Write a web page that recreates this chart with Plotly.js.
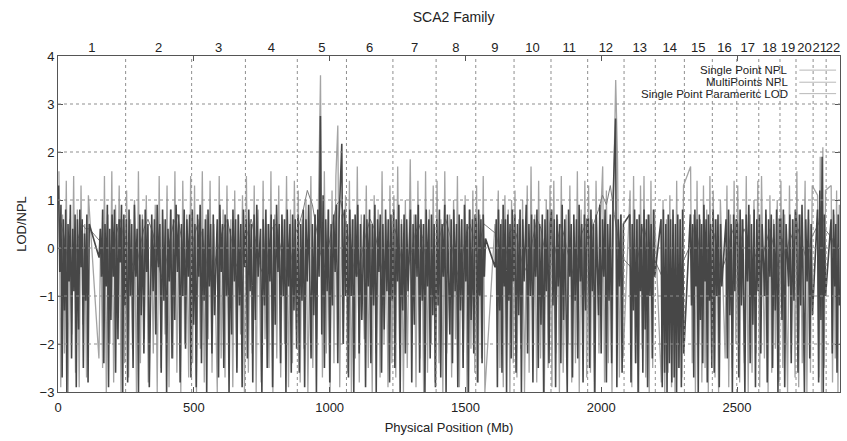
<!DOCTYPE html>
<html><head><meta charset="utf-8">
<script src="https://cdn.plot.ly/plotly-3.0.1.min.js"></script>
<style>html,body{margin:0;padding:0;background:#fff;} #chart{width:847px;height:441px;}</style>
</head><body><div id="chart"></div>
<script>
// ---------- data ----------
const chrNames = ['1','2','3','4','5','6','7','8','9','10','11','12','13','14','15','16','17','18','19','20','21','22'];
const chrLengths = [249,243,198,191,181,171,159,146,141,136,135,134,115,107,103,90,81,78,59,63,48,51];
const gapStarts = [118,90,88,48,46,58,58,43,39,39,51,34,0,0,0,35,22,15,24,26,0,0];
const gapEnds   = [150,94,93,52,50,62,62,47,70,42,55,38,19,19,20,46,25,19,28,30,14,16];

const singlePointNpl = [
 [1.6,-2.9,0.7,-2.2,1.4,-3,0.6,-1.8,1.5,-2.6,0.8,-2.9,1.3,-1.6,0.5,-2.7,1.1,-2.3,0.4,-2.5,1.5,-3,0.7,-2.0,1.6,-2.8,0.9,-1.7,1.3,-3,0.6,-2.4],
 [1.2,-2.7,0.6,-2.1,1.0,-3,1.6,-2.4,0.7,-1.9,1.1,-2.8,0.5,-2.2,0.9,-3,1.5,-2.5,0.6,-1.8,1.3,-2.9,0.8,-2.3,1.6,-2.6,0.5,-3,1.4,-2.0,0.7,-2.7,1.5],
 [-2.4,1.3,-3,0.6,-2.1,1.6,-2.8,0.7,-1.9,1.4,-2.6,0.5,-3,1.5,-2.3,0.8,-2.7,1.3,-2.0,0.6,-2.9,1.2,-2.5,0.7,-1.8,1.1,-3],
 [1.5,-2.6,0.6,-2.2,1.3,-3,0.8,-2.8,1.4,-1.9,0.5,-2.5,1.6,-3,0.7,-2.3,1.3,-2.7,0.6,-2.0,1.5,-2.9,0.8,-2.4,1.4,-1.7],
 [1.2,-2.8,0.6,-2.1,1.0,-3,1.5,-2.5,0.7,-1.9,1.1,3.6,-2.7,1.6,-2.2,0.8,-3,1.2,-2.4,1.5,2.55,-2.9,0.7,-2.0,1.1],
 [-2.6,1.4,-3,0.6,-2.3,1.7,-2.8,0.7,-1.9,1.3,-2.5,0.5,-3,1.1,-2.2,0.8,-2.7,1.6,-2.0,0.6,-2.9,1.3,-2.4],
 [1.1,-2.7,1.7,-2.1,0.6,-3,1.0,-2.5,1.85,-1.8,0.7,-2.9,1.4,-2.3,0.5,-3,1.6,-2.6,0.8,-2.0,1.3,-2.8],
 [1.4,-2.4,0.6,-3,1.6,-2.2,0.7,-2.7,1.0,-1.9,1.5,-2.9,0.6,-2.5,1.1,-3,0.8,-2.1,1.2,-2.6],
 [1.3,-2.8,0.7,-2.3,1.5,-3,0.5,-0.2,1.2,-2.5,0.6,-2.9,1.1,-2.0,0.8,-3,1.0,-2.4],
 [1.2,-2.7,0.6,-2.1,1.0,-3,1.3,-2.6,1.7,-1.9,0.7,-2.8,1.4,-2.3,0.5,-3,1.0,-2.5,1.3],
 [-2.9,1.4,-2.2,0.6,-3,1.5,-2.6,0.7,-2.0,1.3,-2.8,0.5,-2.4,1.6,-3,0.8,-2.1,1.4,-2.7],
 [1.3,-2.6,0.6,-3,1.4,-2.2,0.7,1.7,-2.8,1.2,-2.4,0.6,-3,1.5,3.5,1.8,-2.7,0.7,-2.3],
 [1.2,-2.9,1.5,-2.4,0.6,-3,1.3,-2.1,1.5,-2.7,0.7,-3,1.4,-2.5,0.8],
 [-2.8,1.0,-3,0.6,-2.6,1.1,-2.9,0.7,-3,1.4,-2.5,0.6,-2.7,1.3],
 [1.7,-2.4,0.7,-3,1.4,-2.0,0.6,-2.8,1.3,-2.5,0.8,-3,1.5,-2.2],
 [1.2,-2.7,0.6,-3,1.0,-2.3,1.3,-2.9,0.7,-2.5,1.4,-2.0],
 [1.3,-2.8,0.6,-2.4,1.5,-3,0.7,-2.6,1.0,-2.2,1.4],
 [-2.9,1.5,-2.3,0.7,-3,1.1,-2.6,0.6,-2.1,1.0,-2.8],
 [1.4,-2.5,0.7,-3,1.3,-2.2,0.6,-2.7],
 [1.6,-2.9,0.7,-2.4,1.4,-3,0.6,-2.6,1.3],
 [1.1,-2.7,1.9,-3,2.1,-2.5,1.2],
 [1.3,-2.8,0.7,-2.3,1.2,-3,0.9]
];

const multiPointsNpl = [
 [0.6,0.3,-0.2,-0.6,-0.3,0.2,0.5,0.4,0.4,0.1,-0.4,-0.7,-0.2,0.3,0.6,0.2],
 [0.1,-0.3,-0.5,0.0,0.4,0.6,0.3,-0.2,-0.6,-0.4,0.1,0.5,0.7,0.2,-0.3,-0.1],
 [0.2,0.5,0.3,-0.2,-0.7,-0.4,0.1,0.4,0.6,0.2,-0.3,-0.5,0.0],
 [0.3,0.6,0.2,-0.4,-0.6,-0.1,0.4,0.5,0.1,-0.3,-0.6,-0.2,0.3],
 [0.5,0.8,1.2,0.9,0.4,-0.1,-0.4,0.0,0.5,0.9,1.0,0.6],
 [0.2,-0.3,-0.6,-0.2,0.3,0.6,0.4,-0.1,-0.5,-0.3,0.2],
 [0.4,0.1,-0.4,-0.6,-0.1,0.3,0.5,0.2,-0.3,-0.5,0.0],
 [0.1,0.4,0.6,0.2,-0.3,-0.6,-0.2,0.3,0.5,0.2],
 [-0.2,0.2,0.5,0.3,0.0,-0.4,-0.2,0.3,0.4],
 [0.3,-0.1,-0.5,-0.3,0.2,0.6,0.4,-0.1,-0.4],
 [-0.3,0.1,0.5,0.2,-0.3,-0.6,-0.2,0.3,0.5],
 [0.2,0.5,0.8,1.1,0.9,1.3,0.7,0.2,-0.2],
 [-0.4,-0.7,-0.3,0.2,0.5,0.1,-0.4,-0.2],
 [-0.6,-0.9,-0.5,-0.8,-0.4,-0.7,-0.3],
 [0.1,0.5,0.2,-0.3,-0.5,0.0,0.4],
 [0.3,-0.2,-0.5,-0.1,0.4,0.2],
 [0.0,0.4,0.2,-0.3,-0.1],
 [-0.3,0.1,0.4,0.0,-0.4],
 [0.2,-0.2,0.3,0.1],
 [0.4,0.1,-0.3,0.2],
 [0.5,0.9,0.4],
 [0.2,-0.2,0.1]
];

const parametricLod = [
 [1.3,-0.5,0.9,-2.7,0.6,-1.3,0.8,-3,0.5,-0.7,0.9,-2.3,0.4,-0.9,0.7,-2.9,0.6,-1.7,0.8,-0.4,0.6,-2.5,0.3,-1.1,0.7,-2.8,0.5,-0.2,0.4,-0.6,0.8,-2.4,0.5,-0.8,0.9,-2.9,0.4,-1.5,0.7,-0.6,0.8,-2.6,0.5,-1.9,0.6,-0.3,0.9,-3,0.7,-1.2],
 [0.6,-2.8,0.8,-1.0,0.5,-2.5,0.9,-0.6,0.4,-3,0.7,-1.4,0.6,-2.2,0.8,-0.5,0.5,-2.9,0.7,-0.9,0.6,-1.8,0.9,-0.4,0.5,-2.6,0.8,-1.1,0.6,-3,0.4,-0.7,0.8,-2.3,0.6,-1.5,0.9,-0.5,0.7,-2.8,0.5,-1.0,0.8,-2.1,0.6,-0.6,0.7,-2.7],
 [0.8,-1.6,0.5,-2.9,0.7,-0.6,0.9,-2.4,0.4,-1.1,0.6,-3,0.8,-0.8,0.5,-2.2,0.7,-1.4,0.6,-2.7,0.9,-0.5,0.5,-2.5,0.7,-1.0,0.6,-3,0.4,-1.8,0.8,-0.7,0.6,-2.6,0.7,-1.2,0.5,-2.9,0.8,-0.4],
 [0.6,-2.3,0.8,-0.9,0.5,-2.8,0.7,-1.5,0.9,-0.6,0.4,-3,0.6,-1.2,0.8,-2.5,0.5,-0.7,0.7,-2.9,0.6,-1.6,0.9,-0.5,0.5,-2.4,0.7,-1.0,0.6,-3,0.8,-0.8,0.5,-2.6,0.7,-1.3,0.6,-2.1],
 [0.7,-2.6,0.5,-1.1,0.8,-2.9,0.6,-0.7,0.9,-2.3,0.5,-1.4,0.7,-3,0.8,-0.6,2.75,-1.8,1.1,-2.5,0.6,-0.9,0.8,-2.8,0.5,-1.2,0.7,-0.5,0.9,-2.4,0.6,1.4,2.17,-2.0,0.8,-1.0],
 [0.5,-2.7,0.8,-1.0,0.6,-3,0.7,-0.6,0.9,-2.2,0.5,-1.5,0.7,-2.9,0.6,-0.8,0.8,-2.4,0.5,-1.2,0.9,-3,0.6,-0.5,0.7,-2.6,0.5,-1.7,0.8,-0.9,0.6,-2.8,0.7,-1.1],
 [0.8,-2.5,0.6,-0.7,0.9,-3,0.5,-1.3,0.7,-2.2,0.6,-0.9,0.8,-2.8,0.5,-1.6,0.7,-0.6,0.9,-2.6,0.6,-1.1,0.5,-3,0.8,-0.8,0.6,-2.3,0.7,-1.4,0.5,-2.9],
 [0.6,-1.2,0.8,-2.7,0.5,-0.6,0.9,-3,0.7,-1.8,0.6,-2.4,0.8,-0.9,0.5,-2.9,0.7,-1.3,0.6,-2.5,0.9,-0.7,0.5,-3,0.8,-1.5,0.6,-2.2,0.7],
 [0.5,-2.8,0.8,-1.0,0.6,-2.4,0.7,-0.6,0.2,-0.4,0.6,-2.9,0.8,-1.3,0.5,-2.6,0.9,-0.8,0.6,-3,0.7,-1.1,0.5,-2.3,0.8,-0.7],
 [0.7,-2.6,0.5,-1.4,0.8,-3,0.6,-0.7,0.9,-2.2,0.5,-1.0,0.7,-2.8,0.6,-0.6,0.8,-2.5,0.5,-1.6,0.7,-3,0.6,-0.9,0.8,-2.4,0.5],
 [0.8,-1.2,0.6,-2.9,0.7,-0.8,0.5,-2.4,0.9,-1.5,0.6,-3,0.8,-0.6,0.5,-2.7,0.7,-1.1,0.6,-2.3,0.9,-0.7,0.5,-2.8,0.7,-1.3,0.6],
 [0.6,-2.5,0.8,-0.9,0.5,-3,0.7,-1.4,0.9,-2.2,0.6,-0.6,0.8,-2.8,0.5,-1.1,0.7,-2.4,0.9,1.6,2.7,-2.9,0.6,-0.8,0.7,-2.6,0.5],
 [0.7,-2.8,0.5,-1.3,0.8,-2.4,0.6,-3,0.7,-0.9,0.5,-2.6,0.8,-1.7,0.6,-2.9,0.7,-1.0,0.5,-2.3,0.8,-0.6],
 [0.6,-2.9,0.8,-2.6,0.5,-3,0.7,-2.4,0.6,-2.8,0.8,-2.7,0.5,-3,0.7,-2.5,0.6,-2.9,0.8,-2.2],
 [0.7,-1.2,0.5,-2.7,0.8,-0.8,0.6,-3,0.7,-1.5,0.5,-2.4,0.9,-0.7,0.6,-2.8,0.7,-1.1,0.5,-2.5],
 [0.8,-2.6,0.6,-1.0,0.7,-2.9,0.5,-0.8,0.6,-2.3,0.8,-1.4,0.5,-3,0.7,-0.9,0.6],
 [0.5,-2.7,0.8,-1.2,0.6,-3,0.7,-0.7,0.9,-2.4,0.5,-1.6,0.8,-2.9,0.6,-0.9],
 [0.7,-2.2,0.5,-1.0,0.8,-2.8,0.6,-0.6,0.7,-2.5,0.5,-1.3,0.8,-3,0.6],
 [0.6,-1.5,0.8,-2.9,0.5,-0.8,0.7,-2.4,0.6,-1.1,0.8],
 [0.5,-2.6,0.7,-1.2,0.9,-3,0.6,-0.7,0.8,-2.3,0.5,-1.4],
 [0.8,-2.8,1.2,-1.5,1.9,-3,0.7,-1.0],
 [0.6,-2.2,0.8,-0.8,0.5,-2.6,0.7,-1.2]
];

const seriesNames = ['Single Point NPL','MultiPoints NPL','Single Point Parameritc LOD'];
const xTickValues = [0,500,1000,1500,2000,2500];
const yTickValues = [-3,-2,-1,0,1,2,3,4];
const yGridValues = [-2,-1,0,1,2,3];

// ---------- build ----------
const chrStarts = []; let acc = 0;
chrLengths.forEach(l => { chrStarts.push(acc); acc += l; });
const genomeEnd = acc;
const chrEnds = chrStarts.map((s,i)=>s+chrLengths[i]);
const chrMids = chrStarts.map((s,i)=>s+chrLengths[i]/2);

function markerPositions(c, n){
  const gap = gapEnds[c]-gapStarts[c];
  const step = (chrLengths[c]-gap)/n;
  const out = [];
  for(let i=0;i<n;i++){ let p=(i+0.5)*step; if(p>=gapStarts[c]) p+=gap; out.push(chrStarts[c]+p); }
  return out;
}
function flatten(byChr){
  const xs=[], ys=[];
  byChr.forEach((vals,c)=>{ const px=markerPositions(c,vals.length); px.forEach((p,i)=>{xs.push(p); ys.push(vals[i]);}); });
  return {xs, ys};
}
const s1 = flatten(singlePointNpl), s2 = flatten(multiPointsNpl), s3 = flatten(parametricLod);
const colors = ['#a4a4a4','#7c7c7c','#474747'];
const font = 'Liberation Sans, Arial, sans-serif';

const traces = [
  {x:s1.xs, y:s1.ys, type:'scatter', mode:'lines', name:seriesNames[0], line:{color:colors[0], width:1.3}, showlegend:false, hoverinfo:'skip'},
  {x:s2.xs, y:s2.ys, type:'scatter', mode:'lines', name:seriesNames[1], line:{color:colors[1], width:1}, showlegend:false, hoverinfo:'skip'},
  {x:s3.xs, y:s3.ys, type:'scatter', mode:'lines', name:seriesNames[2], line:{color:colors[2], width:1.6}, showlegend:false, hoverinfo:'skip'},
  {x:chrMids, y:chrMids.map(()=>0), xaxis:'x2', type:'scatter', mode:'markers', marker:{opacity:0}, showlegend:false, hoverinfo:'skip'}
];

const shapes = [];
chrEnds.slice(0,-1).forEach(b => shapes.push({type:'line', xref:'x', yref:'y domain', x0:b, x1:b, y0:0, y1:1, layer:'above', line:{color:'#8f8f8f', width:1, dash:'dot'}}));
yGridValues.forEach(v => shapes.push({type:'line', xref:'x domain', yref:'y', x0:0, x1:1, y0:v, y1:v, layer:'above', line:{color:'#8f8f8f', width:1, dash:'dot'}}));

const annotations = [];
const legendY = [0.958, 0.922, 0.888];
seriesNames.forEach((n,i)=>{
  annotations.push({xref:'paper', yref:'paper', x:0.936, y:legendY[i], xanchor:'right', yanchor:'middle', text:n, showarrow:false, font:{family:font, size:11.5, color:'#222'}});
  shapes.push({type:'line', xref:'paper', yref:'paper', x0:0.948, x1:0.995, y0:legendY[i], y1:legendY[i], layer:'above', line:{color:'#b8b8b8', width:1}});
});

const layout = {
  width:847, height:441,
  margin:{l:58, r:7, t:56, b:49},
  paper_bgcolor:'#fff', plot_bgcolor:'#fff',
  font:{family:font, size:13, color:'#222'},
  title:{text:'SCA2 Family', font:{family:font, size:14, color:'#222'}, x:0.5355, xanchor:'center', y:0.962, yanchor:'middle', yref:'container'},
  xaxis:{range:[0,genomeEnd], tickvals:xTickValues, ticks:'inside', ticklen:5, tickcolor:'#555', showline:true, linecolor:'#555', linewidth:1, mirror:'ticks', showgrid:false, zeroline:false,
         ticklabelstandoff:3,
         tickfont:{family:font, size:13, color:'#222'}, title:{text:'Physical Position (Mb)', font:{family:font, size:13, color:'#222'}, standoff:9}},
  xaxis2:{range:[0,genomeEnd], overlaying:'x', side:'top', tickvals:chrMids, ticktext:chrNames, ticks:'', tickangle:0, showgrid:false, zeroline:false, showline:false,
          tickfont:{family:font, size:13, color:'#222'}},
  yaxis:{range:[-3,4], tickvals:yTickValues, ticks:'inside', ticklen:5, tickcolor:'#555', showline:true, linecolor:'#555', linewidth:1, mirror:'ticks', showgrid:false, zeroline:false,
         tickfont:{family:font, size:13, color:'#222'}, title:{text:'LOD/NPL', font:{family:font, size:13, color:'#222'}, standoff:10}},
  shapes, annotations
};
Plotly.newPlot('chart', traces, layout, {staticPlot:true, displayModeBar:false});
</script></body></html>
